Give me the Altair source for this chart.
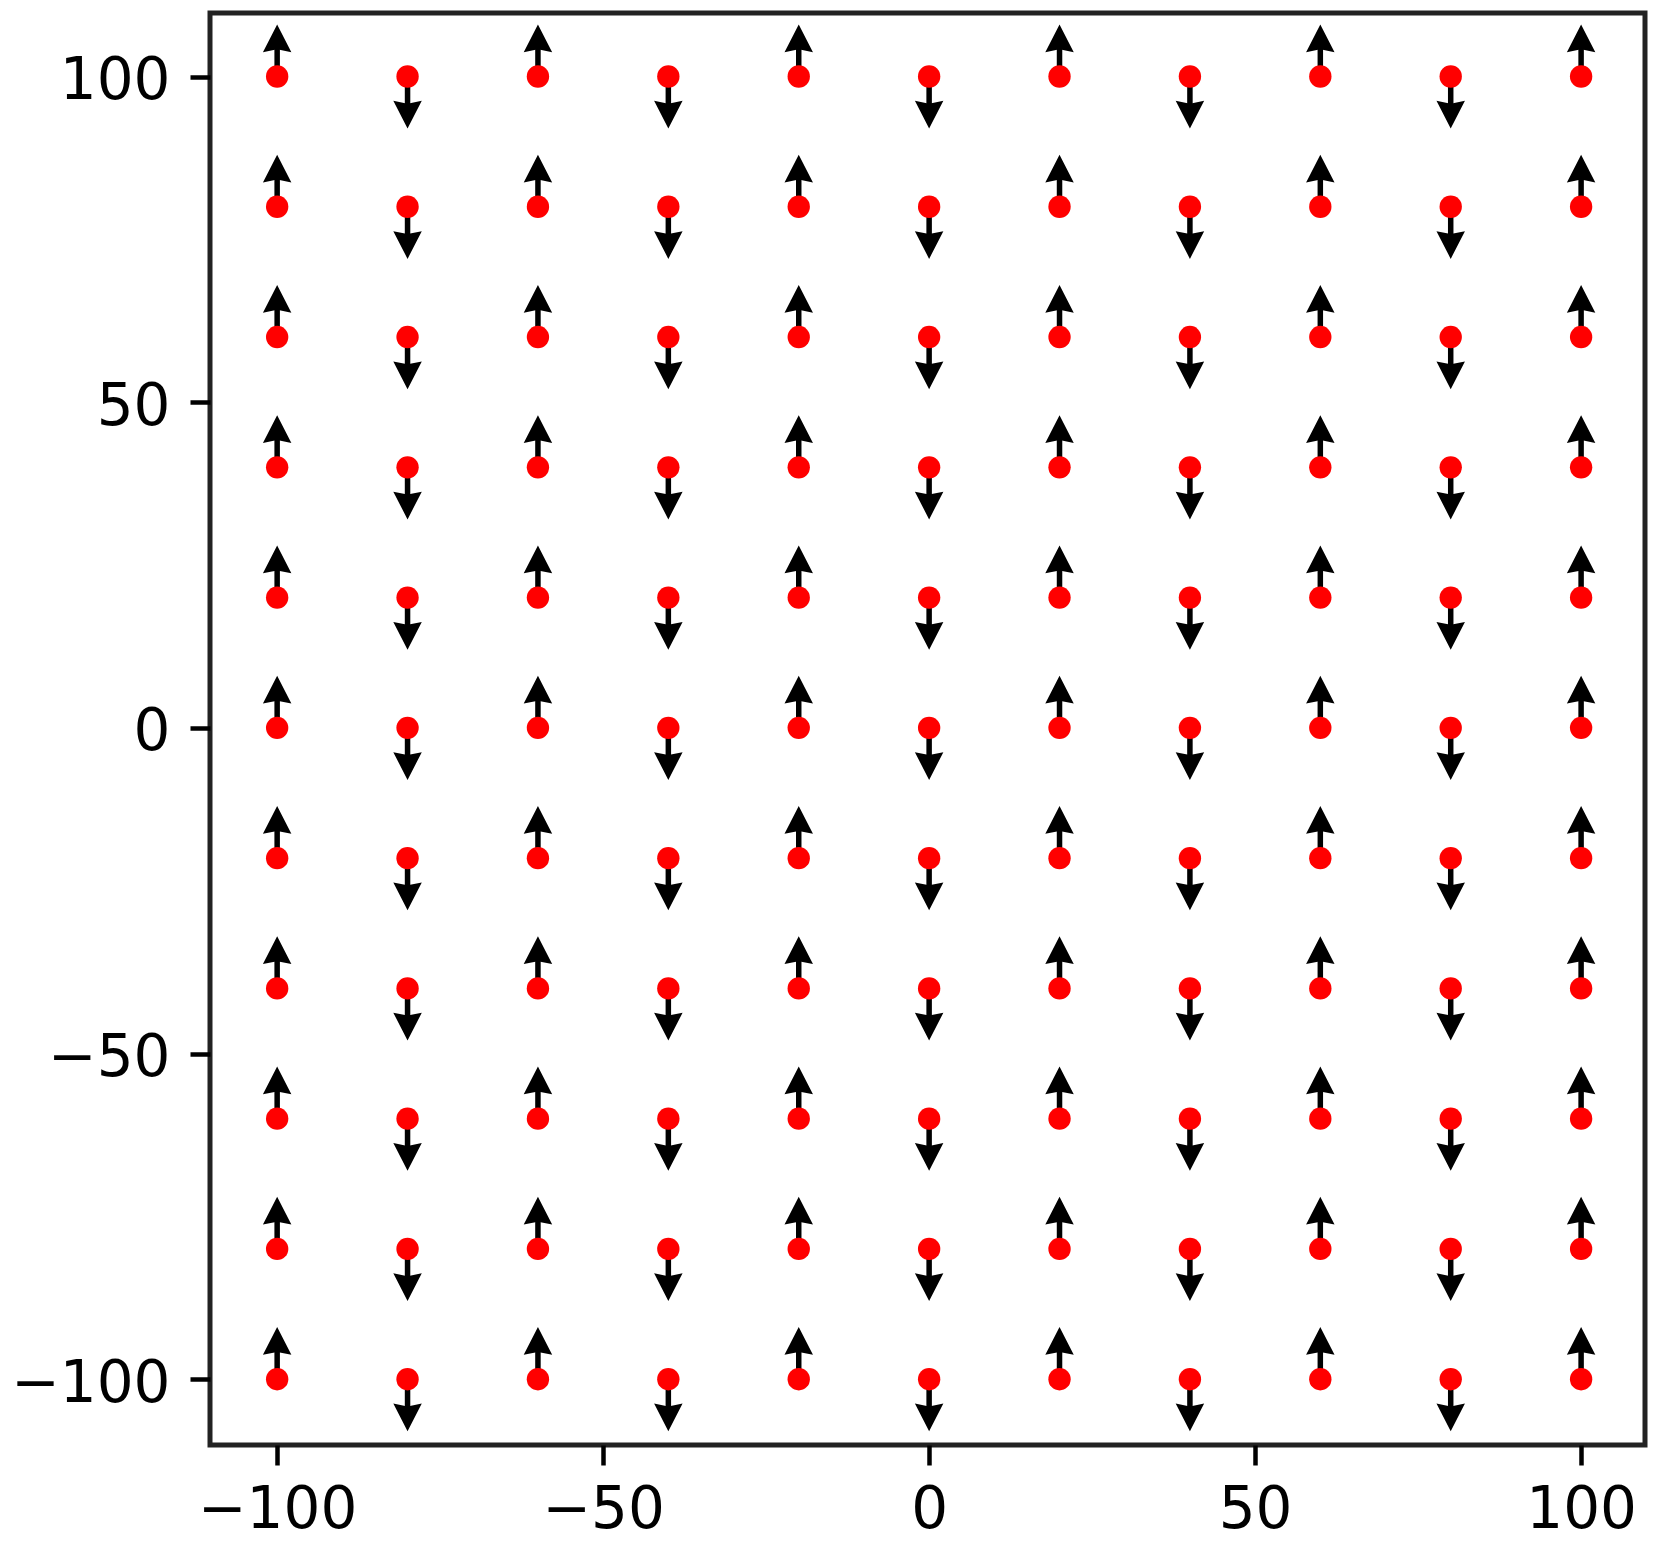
import altair as alt
import pandas as pd

# Grid of arrow origins
X_VALUES = [-100, -80, -60, -40, -20, 0, 20, 40, 60, 80, 100]
Y_VALUES = [-100, -80, -60, -40, -20, 0, 20, 40, 60, 80, 100]
# Vertical component of each column's arrow (up / down alternating)
V_BY_COLUMN = [8, -8, 8, -8, 8, -8, 8, -8, 8, -8, 8]
TICKS = [-100, -50, 0, 50, 100]

rows = []
for xi, xv in enumerate(X_VALUES):
    for yv in Y_VALUES:
        v = V_BY_COLUMN[xi]
        rows.append({"x": xv, "y": yv, "v": v, "dir": "up" if v > 0 else "down"})
df = pd.DataFrame(rows)

XDOM = [-110.3, 109.8]
YDOM = [-110.1, 109.75]

xs = alt.Scale(domain=XDOM, nice=False, zero=False)
ys = alt.Scale(domain=YDOM, nice=False, zero=False)

x_axis = alt.Axis(values=TICKS, grid=False, domain=False, tickSize=20, tickWidth=4.5,
                  tickColor="black", labelFont="DejaVu Sans", labelFontSize=58,
                  labelColor="black", labelPadding=16, title=None, labelFlush=False)
y_axis = alt.Axis(values=TICKS, grid=False, domain=False, tickSize=20, tickWidth=4.5,
                  tickColor="black", labelFont="DejaVu Sans", labelFontSize=58,
                  labelColor="black", labelPadding=20, title=None, labelOffset=5,
                  labelFlush=False)

base = alt.Chart(df).transform_calculate(
    tip="datum.y + datum.v",
    shaft_end="datum.y + datum.v * 0.55",
)

shafts = base.mark_rule(color="black", strokeWidth=5.5).encode(
    x=alt.X("x:Q", scale=xs, axis=x_axis),
    y=alt.Y("y:Q", scale=ys, axis=y_axis),
    y2="shaft_end:Q",
)

UP_PATH = "M0,0 L1,1.95 L0,1.75 L-1,1.95 Z"
DOWN_PATH = "M0,0 L1,-1.95 L0,-1.75 L-1,-1.95 Z"

heads = base.mark_point(filled=True, color="black", opacity=1, strokeWidth=0, size=810).encode(
    x=alt.X("x:Q", scale=xs),
    y=alt.Y("tip:Q", scale=ys),
    shape=alt.Shape("dir:N", scale=alt.Scale(domain=["up", "down"], range=[UP_PATH, DOWN_PATH]),
                    legend=None),
)

dots = alt.Chart(df).mark_circle(color="#ff0000", opacity=1, size=500).encode(
    x=alt.X("x:Q", scale=xs),
    y=alt.Y("y:Q", scale=ys),
)

chart = alt.layer(shafts, heads, dots).properties(
    width=1435, height=1432,
    autosize=alt.AutoSizeParams(type="none"),
    padding={"left": 202, "top": 5, "right": 10, "bottom": 100},
    background="white",
).configure_view(stroke="#222222", strokeWidth=5)

chart.save("out.html", embed_options={"renderer": "svg", "actions": False})
